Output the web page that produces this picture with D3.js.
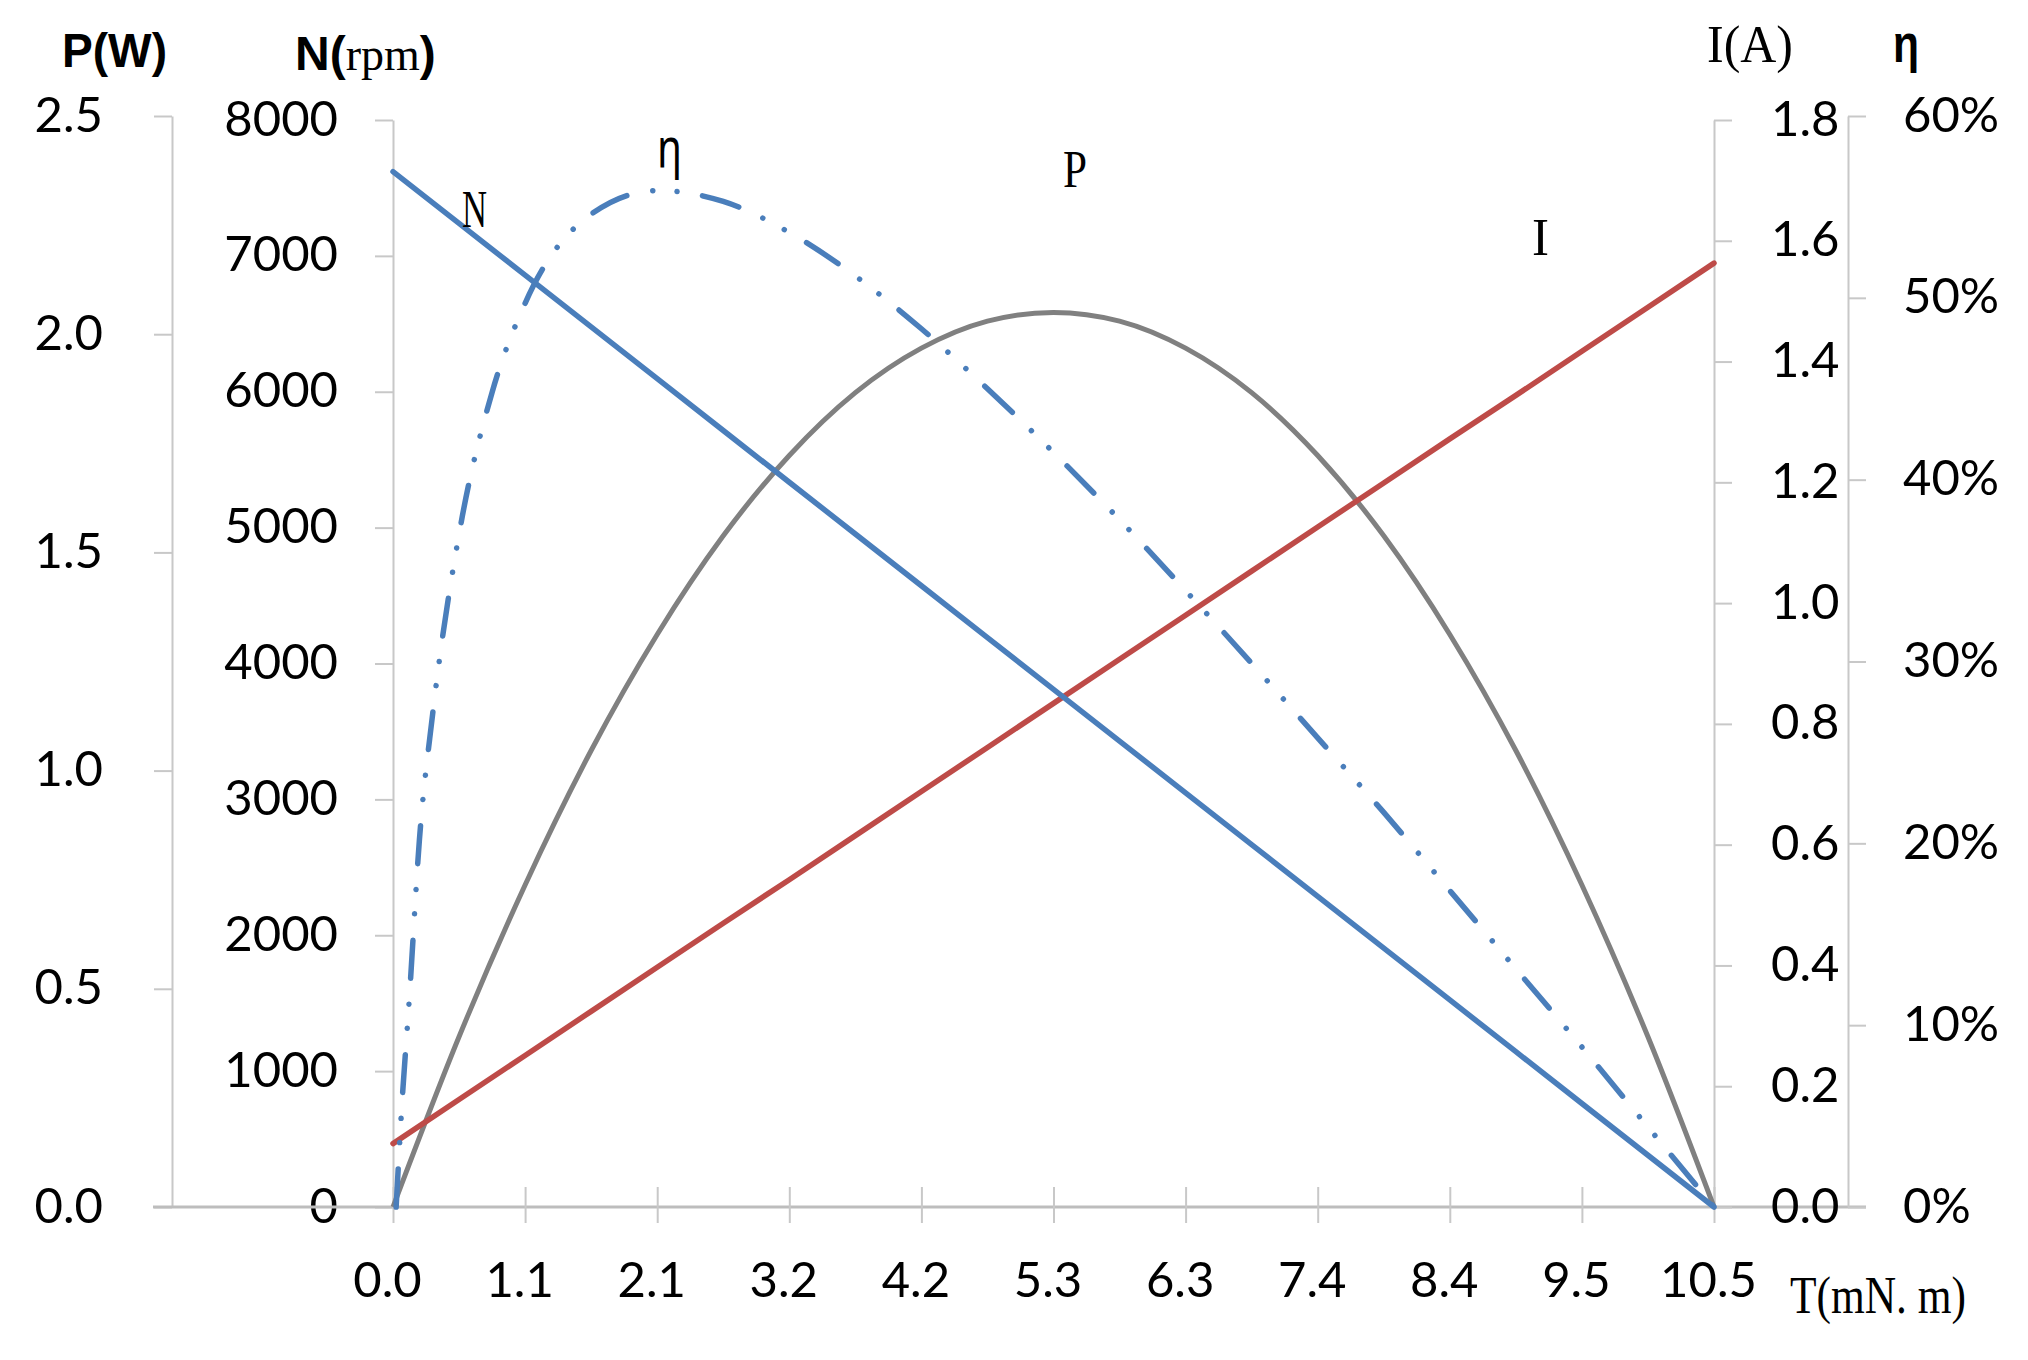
<!DOCTYPE html>
<html><head><meta charset="utf-8">
<script src="https://cdn.jsdelivr.net/npm/d3@7"></script>
<style>html,body{margin:0;padding:0;background:#fff;} svg{display:block}</style>
</head><body>
<svg id="chart" width="2028" height="1360"></svg>
<script>
// ---- data ----
const torque    = [0,0.525,1.05,1.575,2.1,2.625,3.15,3.675,4.2,4.725,5.25,5.775,6.3,6.825,7.35,7.875,8.4,8.925,9.45,9.975,10.5];
const speedRpm  = [7620,7239,6858,6477,6096,5715,5334,4953,4572,4191,3810,3429,3048,2667,2286,1905,1524,1143,762,381,0];
const currentA  = [0.105,0.178,0.251,0.324,0.397,0.470,0.542,0.615,0.688,0.761,0.834,0.907,0.980,1.053,1.126,1.199,1.272,1.344,1.417,1.490,1.563];
const powerW    = [0,0.390,0.738,1.046,1.312,1.538,1.722,1.866,1.968,2.030,2.050,2.030,1.968,1.866,1.722,1.538,1.312,1.046,0.738,0.390,0];
const effTorque = [0.025,0.065,0.13,0.21,0.315,0.525,0.7875,1.05,1.575,2.1,2.625,3.15,3.675,4.2,4.725,5.25,5.775,6.3,6.825,7.35,7.875,8.4,8.925,9.45,9.975,10.5];
const effPct    = [0,5,11.5,20.2,27.1,37.0,44.8,49.7,54.6,55.9,55.3,53.6,51.2,48.3,45.0,41.5,37.8,33.9,29.9,25.8,21.7,17.4,13.1,8.8,4.4,0];

const xTickValues = [0,1.05,2.1,3.15,4.2,5.25,6.3,7.35,8.4,9.45,10.5];
const xTickLabels = ["0.0","1.1","2.1","3.2","4.2","5.3","6.3","7.4","8.4","9.5","10.5"];
const pTicks   = [0,0.5,1,1.5,2,2.5];
const nTicks   = [0,1000,2000,3000,4000,5000,6000,7000,8000];
const iTicks   = [0,0.2,0.4,0.6,0.8,1.0,1.2,1.4,1.6,1.8];
const effTicks = [0,10,20,30,40,50,60];

// ---- layout ----
const svg = d3.select("#chart");
const X0 = 393, X1 = 1714, YB = 1207;
const x  = d3.scaleLinear().domain([0,10.5]).range([X0,X1]);
const yP = d3.scaleLinear().domain([0,2.5]).range([YB,116]);
const yN = d3.scaleLinear().domain([0,8000]).range([YB,120]);
const yI = d3.scaleLinear().domain([0,1.8]).range([YB,120]);
const yE = d3.scaleLinear().domain([0,60]).range([YB,116]);

const AX = "#C8C8C8";
const tickFont = "Lato, 'Open Sans', sans-serif";

function styleAxis(g, labelY){
  g.select(".domain").attr("stroke", AX).attr("stroke-width", 2);
  g.selectAll(".tick line").attr("stroke", AX).attr("stroke-width", 2);
  g.selectAll(".tick text").attr("font-family", tickFont).attr("font-size", 49)
    .attr("fill", "#000").attr("dy", null).attr("y", labelY);
}

// P axis (far left)
const gP = svg.append("g").attr("transform", `translate(172,0)`)
  .call(d3.axisLeft(yP).tickValues(pTicks).tickSize(18).tickSizeOuter(0).tickPadding(51)
    .tickFormat(d3.format(".1f")));
styleAxis(gP, 15);

// N axis
const gN = svg.append("g").attr("transform", `translate(${X0},0)`)
  .call(d3.axisLeft(yN).tickValues(nTicks).tickSize(18).tickSizeOuter(0).tickPadding(37)
    .tickFormat(d3.format("d")));
styleAxis(gN, 15);

// baseline
svg.append("line").attr("x1",153).attr("x2",1866).attr("y1",YB).attr("y2",YB)
  .attr("stroke","#BDBDBD").attr("stroke-width",3);

// X axis ticks
const gX = svg.append("g").attr("transform", `translate(0,${YB})`)
  .call(d3.axisBottom(x).tickValues(xTickValues).tickSizeOuter(0)
    .tickFormat((d,i)=>xTickLabels[i]));
gX.select(".domain").remove();
gX.selectAll(".tick line").attr("y1",-20).attr("y2",16).attr("stroke",AX).attr("stroke-width",2);
gX.selectAll(".tick text").attr("font-family", tickFont).attr("font-size",49).attr("fill","#000")
  .attr("dy", null).attr("y", 90).attr("dx", -6);

// I axis
const gI = svg.append("g").attr("transform", `translate(${X1},0)`)
  .call(d3.axisRight(yI).tickValues(iTicks).tickSize(18).tickSizeOuter(0).tickPadding(39)
    .tickFormat(d3.format(".1f")));
styleAxis(gI, 15);

// efficiency axis
const gE = svg.append("g").attr("transform", `translate(1848,0)`)
  .call(d3.axisRight(yE).tickValues(effTicks).tickSize(18).tickSizeOuter(0).tickPadding(37)
    .tickFormat(d => d + "%"));
styleAxis(gE, 15);

// ---- series ----
const idx = d3.range(torque.length);
const lineP = d3.line().x(i=>x(torque[i])).y(i=>yP(powerW[i])).curve(d3.curveMonotoneX);
const lineI = d3.line().x(i=>x(torque[i])).y(i=>yI(currentA[i]));
const lineN = d3.line().x(i=>x(torque[i])).y(i=>yN(speedRpm[i]));
const lineE = d3.line().x(i=>x(effTorque[i])).y(i=>yE(effPct[i])).curve(d3.curveMonotoneX);

svg.append("path").attr("d", lineP(idx)).attr("fill","none").attr("stroke","#808080")
  .attr("stroke-width",5).attr("stroke-linejoin","round");
svg.append("path").attr("d", lineI(idx)).attr("fill","none").attr("stroke","#BE4B48")
  .attr("stroke-width",5.5).attr("stroke-linecap","round");
svg.append("path").attr("d", lineN(idx)).attr("fill","none").attr("stroke","#4A7EBB")
  .attr("stroke-width",5.5).attr("stroke-linecap","round");
svg.append("path").attr("d", lineE(d3.range(effTorque.length))).attr("fill","none").attr("stroke","#4A7EBB")
  .attr("stroke-width",5.5).attr("stroke-linecap","round").attr("stroke-linejoin","round")
  .attr("stroke-dasharray","38,26.5,0.01,24.3,0.01,25.8");

// ---- texts ----
function txt(s, xx, yy, opts){
  const t = svg.append("text").attr("x", xx).attr("y", yy).text(s)
    .attr("font-family", opts.font).attr("font-size", opts.size)
    .attr("font-weight", opts.weight || "normal").attr("fill", "#000")
    .attr("text-anchor", opts.anchor || "start");
  if (opts.len) t.attr("textLength", opts.len).attr("lengthAdjust", "spacingAndGlyphs");
  return t;
}
const SANS = "'Liberation Sans', Arial, sans-serif";
const SERIF = "'Liberation Serif', 'Times New Roman', serif";

txt("P(W)", 62, 67, {font:SANS, size:48, weight:"bold", len:105});

// N(rpm) as one text with mixed fonts
const nt = svg.append("text").attr("x", 295).attr("y", 70).attr("fill", "#000");
nt.append("tspan").text("N(").attr("font-family", SANS).attr("font-size", 48).attr("font-weight", "bold");
nt.append("tspan").text("rpm").attr("font-family", SERIF).attr("font-size", 46);
nt.append("tspan").text(")").attr("font-family", SANS).attr("font-size", 48).attr("font-weight", "bold");

txt("I(A)", 1707, 62, {font:SERIF, size:52, len:86});
txt("η", 1893, 62, {font:SANS, size:54, weight:"bold", len:26});
txt("T(mN. m)", 1790, 1313, {font:SERIF, size:53, len:176});

// in-chart series labels
txt("N", 462, 227, {font:SERIF, size:53, len:25});
txt("η", 657, 167, {font:"'Noto Sans', 'DejaVu Sans', sans-serif", size:54, len:25});
txt("P", 1063, 187, {font:SERIF, size:53, len:24});
txt("I", 1532, 255, {font:SERIF, size:53, len:17});
</script>
</body></html>
